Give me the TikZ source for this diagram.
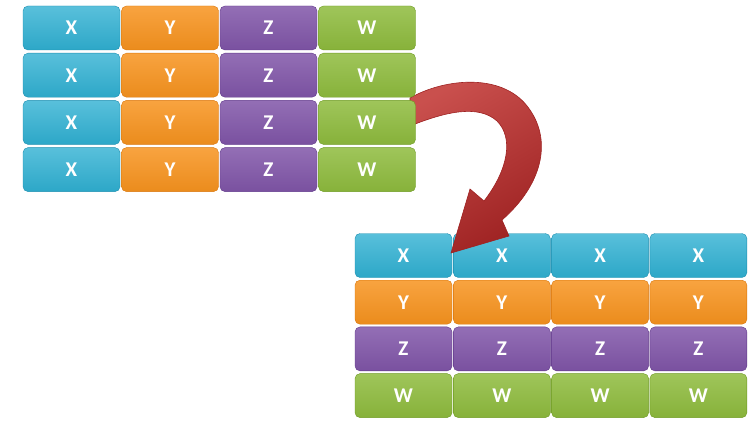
\documentclass[tikz,border=0pt]{standalone}
\usepackage{fontspec}
\setmainfont{Carlito}
\usetikzlibrary{calc}
\definecolor{cX}{HTML}{2FB0D2}
\definecolor{cXd}{HTML}{1E8FB0}
\definecolor{cY}{HTML}{F7931E}
\definecolor{cYd}{HTML}{D9760C}
\definecolor{cZ}{HTML}{8055A8}
\definecolor{cZd}{HTML}{61398A}
\definecolor{cW}{HTML}{8EBB3D}
\definecolor{cWd}{HTML}{6E9A22}
\definecolor{arr}{HTML}{C0312E}
\definecolor{arrd}{HTML}{9E2222}
\tikzset{
  cell/.style={rounded corners=5pt, minimum width=97pt, minimum height=44pt,
    inner sep=0pt, text=white, font=\fontsize{21}{21}\selectfont\bfseries},
  cellX/.style={cell, draw=cXd, top color=cX!80!white, bottom color=cX!95!black},
  cellY/.style={cell, draw=cYd, top color=cY!85!white, bottom color=cY!95!black},
  cellZ/.style={cell, draw=cZd, top color=cZ!85!white, bottom color=cZ!95!black},
  cellW/.style={cell, draw=cWd, top color=cW!85!white, bottom color=cW!95!black},
  bigarrow/.style={draw=arrd, line width=0.6pt, top color=arr!85!white, bottom color=arrd, shading angle=30}
}
\begin{document}
\begin{tikzpicture}[x=1pt,y=-1pt]
\useasboundingbox (0,0) rectangle (754,420);
% bottom-right grid (transposed)
\foreach \L [count=\r from 0] in {X,Y,Z,W}{
  \foreach \c in {0,1,2,3}{
    \node[cell\L] (b-\r-\c) at ({403.5+98.3*\c},{255.5+46.7*\r}) {\L};
  }
}
% arrow
\coordinate (atip) at (451,253);
\path[bigarrow] (410,98) .. controls (445,78) and (505,72) .. (530,110)
  .. controls (552,142) and (542,185) .. (502,220)
  -- (509,236) -- (atip) -- (470,189) -- (484,201)
  .. controls (508,170) and (514,138) .. (497,121)
  .. controls (478,104) and (445,112) .. (410,126) -- cycle;
% top-left grid
\foreach \L [count=\c from 0] in {X,Y,Z,W}{
  \foreach \r in {0,1,2,3}{
    \node[cell\L] (t-\r-\c) at ({71.5+98.5*\c},{28+47.2*\r}) {\L};
  }
}
\end{tikzpicture}
\end{document}
